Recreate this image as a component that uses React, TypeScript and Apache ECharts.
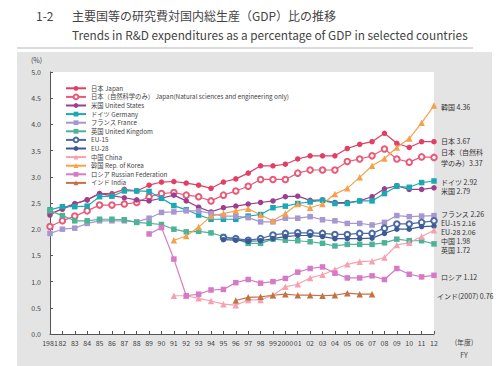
import React, { useEffect, useRef } from 'react';
import * as echarts from 'echarts';

const years = ['1981','82','83','84','85','86','87','88','89','90','91','92','93','94','95','96','97','98','99','2000','01','02','03','04','05','06','07','08','09','10','11','12'];

const japan = [2.30,2.38,2.48,2.56,2.68,2.68,2.76,2.73,2.84,2.90, 2.91,2.88,2.84,2.78,2.90,2.96,3.07,3.21,3.21,3.24, 3.34,3.40,3.40,3.40,3.54,3.62,3.67,3.83,3.64,3.56, 3.67,3.67];
const japanNat = [2.05,2.16,2.25,2.35,2.46,2.46,2.48,2.51,2.62,2.68, 2.70,2.65,2.62,2.54,2.65,2.73,2.82,2.95,2.95,2.95, 3.07,3.13,3.13,3.13,3.29,3.34,3.40,3.53,3.34,3.28, 3.38,3.37];
const usa = [2.27,2.40,2.49,2.56,2.68,2.64,2.60,2.56,2.54,2.59, 2.65,2.54,2.42,2.33,2.41,2.44,2.48,2.51,2.54,2.62, 2.63,2.55,2.56,2.51,2.51,2.54,2.62,2.77,2.83,2.76, 2.76,2.79];
const germany = [2.37,2.43,2.43,2.44,2.62,2.63,2.73,2.73,2.72,2.59, 2.45,2.37,2.27,2.19,2.19,2.19,2.25,2.28,2.41,2.44, 2.49,2.52,2.55,2.49,2.49,2.54,2.54,2.68,2.82,2.80, 2.89,2.92];
const france = [1.92,2.00,2.02,2.11,2.16,2.16,2.16,2.14,2.21,2.32, 2.33,2.35,2.35,2.30,2.25,2.25,2.22,2.14,2.14,2.21, 2.21,2.24,2.18,2.16,2.11,2.11,2.08,2.13,2.26,2.24, 2.25,2.26];
const uk = [2.35,2.26,2.16,2.16,2.19,2.19,2.18,2.13,2.11,2.09, 2.00,1.95,1.96,1.93,1.86,1.82,1.73,1.73,1.81,1.79, 1.78,1.76,1.73,1.68,1.71,1.71,1.71,1.74,1.81,1.78, 1.78,1.72];
const eu15 = [null,null,null,null,null,null,null,null,null,null,null,null,null,null, 1.84,1.82,1.79,1.82,1.89,1.92,1.93,1.93,1.92,1.90,1.90,1.92,1.92,2.02,2.10,2.10,2.13,2.16];
const eu28 = [null,null,null,null,null,null,null,null,null,null,null,null,null,null, 1.80,1.79,1.77,1.78,1.82,1.86,1.88,1.88,1.86,1.82,1.82,1.82,1.83,1.92,2.00,2.00,2.05,2.06];
const china = [null,null,null,null,null,null,null,null,null,null, 0.73,0.73,0.68,0.63,0.57,0.55,0.65,0.65,0.74,0.90,0.95,1.07,1.13,1.23,1.33,1.38,1.39,1.46,1.70,1.74,1.86,1.98];
const korea = [null,null,null,null,null,null,null,null,null,null, 1.79,1.87,2.04,2.25,2.30,2.35,2.39,2.27,2.16,2.30,2.48,2.41,2.48,2.67,2.78,2.99,3.21,3.35,3.56,3.73,4.03,4.36];
const russia = [null,null,null,null,null,null,null,null, 1.91,2.03,1.43,0.73,0.76,0.84,0.85,0.98,1.04,0.97,1.00,1.06,1.18,1.25,1.28,1.16,1.07,1.07,1.11,1.04,1.25,1.14,1.09,1.12];
const india = [null,null,null,null,null,null,null,null,null,null,null,null,null,null,null, 0.64,0.70,0.71,0.74,0.76,0.74,0.74,0.73,0.74,0.78,0.76,0.76, null,null,null,null,null];

const seriesNames = ['日本 Japan','日本（自然科学のみ） Japan(Natural sciences and engineering only)','米国 United States','ドイツ Germany','フランス France','英国 United Kingdom','EU-15','EU-28','中国 China','韓国 Rep. of Korea','ロシア Russian Federation','インド India'];
const seriesData = [japan, japanNat, usa, germany, france, uk, eu15, eu28, china, korea, russia, india];

const colors = ['#e33e63','#ea5a78','#9b3f8e','#1aa9b3','#a797d0','#4db396','#4a6aa5','#3c5a96','#f7a1b0','#f6a04d','#d77ac6','#c27344'];
const symbols = ['circle','emptyCircle','circle','rect','rect','rect','emptyCircle','circle','triangle','triangle','rect','triangle'];

const endLabels = ['韓国 4.36','日本 3.67','日本（自然科','学のみ）3.37','ドイツ 2.92','米国 2.79','フランス 2.26','EU-15 2.16','EU-28 2.06','中国 1.98','英国 1.72','ロシア 1.12','インド(2007) 0.76'];
const endLabelPos = [[441,107],[441,141],[441,152],[441,163],[441,181.5],[441,191],[441,214],[441,223],[441,232],[441,241],[441,250],[441,277],[437,296]];

const FONT = '"Noto Sans CJK JP", "Noto Sans", sans-serif';

export default function App() {
  const ref = useRef<HTMLDivElement>(null);
  useEffect(() => {
    if (!ref.current) return;
    const chart = echarts.init(ref.current, undefined, { renderer: 'svg' });
    const series = seriesNames.map((name, i) => ({
      name,
      type: 'line',
      data: seriesData[i],
      symbol: symbols[i],
      symbolSize: symbols[i] === 'triangle' ? 6.5 : 5.5,
      showAllSymbol: true,
      connectNulls: false,
      lineStyle: { width: 1.2, color: colors[i] },
      itemStyle: { color: colors[i], borderWidth: symbols[i] === 'emptyCircle' ? 1.2 : 0 },
      emphasis: { disabled: true },
      z: 3,
    }));
    const graphics: any[] = [
      { type: 'rect', z: -10, shape: { x: 17, y: 52, width: 475, height: 314 }, style: { fill: '#e4e4e4' } },
      { type: 'line', shape: { x1: 17, y1: 48, x2: 473, y2: 48 }, style: { stroke: '#cfcfcf', lineWidth: 1.5 } },
      { type: 'text', x: 36, y: 15, style: { text: '1-2', fontSize: 12, fill: '#444', fontFamily: FONT, verticalAlign: 'middle' } },
      { type: 'text', x: 72, y: 15, style: { text: '主要国等の研究費対国内総生産（GDP）比の推移', fontSize: 12, fill: '#444', fontFamily: FONT, verticalAlign: 'middle' } },
      { type: 'text', x: 72, y: 34, style: { text: 'Trends in R&D expenditures as a percentage of GDP in selected countries', fontSize: 11.8, fill: '#444', fontFamily: FONT, verticalAlign: 'middle' } },
      { type: 'text', x: 31, y: 60, style: { text: '(%)', fontSize: 7, fill: '#444', fontFamily: FONT, verticalAlign: 'middle' } },
      { type: 'text', x: 464, y: 342, style: { text: '(年度)', fontSize: 7, fill: '#444', fontFamily: FONT, align: 'center', verticalAlign: 'middle' } },
      { type: 'text', x: 464, y: 355, style: { text: 'FY', fontSize: 7, fill: '#444', fontFamily: FONT, align: 'center', verticalAlign: 'middle' } },
    ];
    endLabels.forEach((t, i) => {
      graphics.push({ type: 'text', x: endLabelPos[i][0], y: endLabelPos[i][1], style: { text: t, fontSize: 7, lineHeight: 8, fill: '#333', fontFamily: FONT, verticalAlign: 'middle' } });
    });
    chart.setOption({
      animation: false,
      textStyle: { fontFamily: FONT },
      grid: { left: 50, right: 66, top: 72, bottom: 32, show: true, backgroundColor: '#ffffff', borderWidth: 0 },
      legend: {
        orient: 'vertical', left: 60, top: 79,
        itemWidth: 20, itemHeight: 6, itemGap: 0,
        textStyle: { fontSize: 6.3, color: '#444', lineHeight: 8.6, fontFamily: FONT },
        data: seriesNames,
      },
      xAxis: {
        type: 'category', data: years, boundaryGap: false,
        axisLine: { lineStyle: { color: '#555', width: 1 } },
        axisTick: { inside: true, length: 3, interval: 0, lineStyle: { color: '#555' } },
        axisLabel: { interval: 0, fontSize: 7, color: '#444', margin: 5, hideOverlap: false },
        splitLine: { show: false },
      },
      yAxis: {
        type: 'value', min: 0, max: 5, interval: 0.5,
        axisLine: { show: true, lineStyle: { color: '#555', width: 1 } },
        axisTick: { show: true, inside: true, length: 3, lineStyle: { color: '#555' } },
        axisLabel: { fontSize: 7, color: '#444', margin: 9, formatter: (v: number) => v.toFixed(1) },
        splitLine: { show: false },
      },
      graphic: graphics,
      series,
    } as any);
    return () => chart.dispose();
  }, []);
  return <div ref={ref} style={{ position: 'fixed', left: 0, top: 0, width: 500, height: 366, background: '#fff' }} />;
}
